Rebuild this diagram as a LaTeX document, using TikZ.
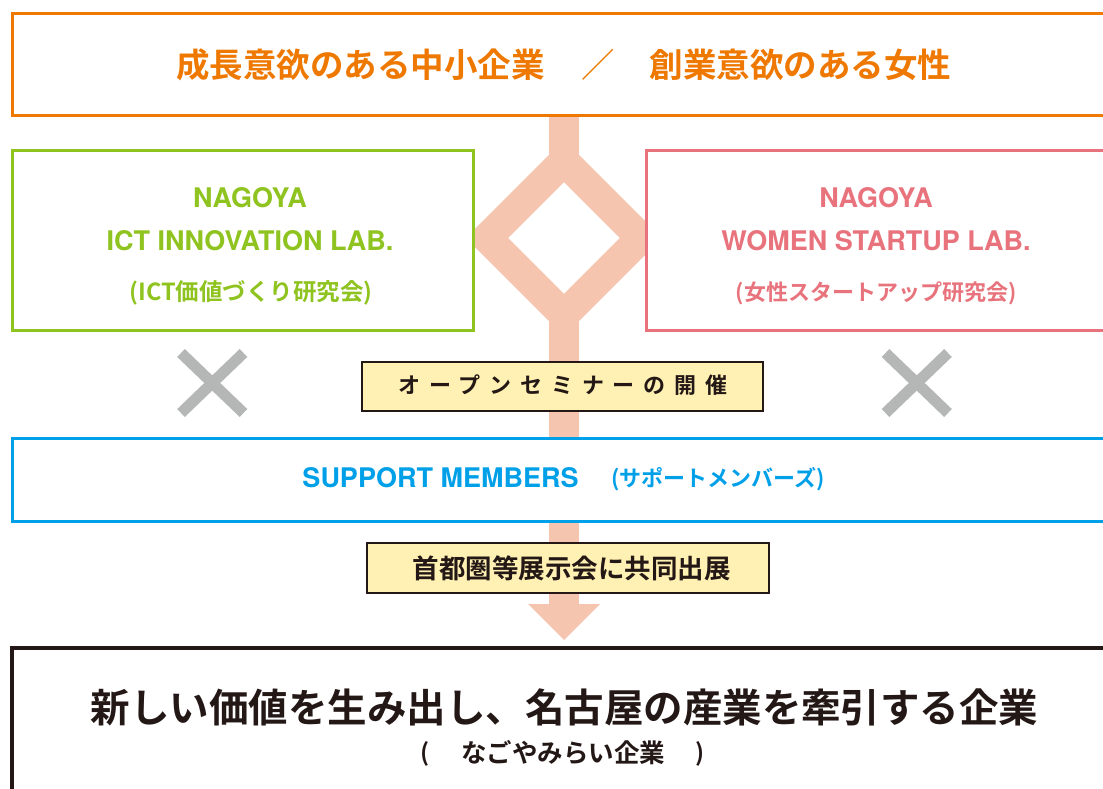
\documentclass[tikz,border=0pt]{standalone}
\usepackage{fontspec}
\setmainfont{TeX Gyre Heros}
\newfontfamily\jp{Noto Sans CJK JP}[UprightFont={* Bold}]
\newfontfamily\jpthin{Noto Sans CJK JP}
\newcommand\fsz[1]{\fontsize{#1}{#1}\selectfont}
\definecolor{cOrange}{HTML}{EE7800}
\definecolor{cGreen}{HTML}{8FC31F}
\definecolor{cPink}{HTML}{E8737C}
\definecolor{cBlue}{HTML}{00A0E9}
\definecolor{cSalmon}{HTML}{F6C5AF}
\definecolor{cGray}{HTML}{B5B6B6}
\definecolor{cYellow}{HTML}{FFF1B3}
\definecolor{cDark}{HTML}{231815}
\tikzset{
  frame/.style={draw=#1, line width=3pt, fill=white, inner sep=0pt},
  tagbox/.style={draw=cDark, line width=2pt, fill=cYellow, inner sep=0pt},
  lbl/.style={anchor=base, inner sep=0pt},
  cross/.style={draw=cGray, line width=11pt},
  flow/.style={draw=cSalmon, line width=30pt},
}
\begin{document}
\begin{tikzpicture}[x=1pt,y=-1pt]
\useasboundingbox (0,0) rectangle (1103,789);
\clip (0,0) rectangle (1103,789);
\fill[white] (0,0) rectangle (1103,789);
% flow bar and diamond
\coordinate (bartop) at (564,116);
\coordinate (dtop) at (564,161);
\coordinate (dright) at (641,238);
\coordinate (dbot) at (564,315);
\coordinate (dleft) at (487,238);
\coordinate (barend) at (564,605);
\draw[flow] (bartop) -- (dtop);
\draw[flow] (dbot) -- (barend);
\draw[flow, miter limit=10] (dtop) -- (dright) -- (dbot) -- (dleft) -- cycle;
\coordinate (arrL) at (528,604);
\coordinate (arrR) at (600,604);
\coordinate (arrT) at (564,640);
\fill[cSalmon] (arrL) -- (arrR) -- (arrT) -- cycle;
% boxes
\node[frame=cOrange, minimum width=1098pt, minimum height=101.5pt] (top) at (561,64.75) {};
\node[frame=cGreen, minimum width=461pt, minimum height=179pt] (green) at (242.5,240.5) {};
\node[frame=cPink, minimum width=464pt, minimum height=179pt] (pink) at (878,240.5) {};
\node[frame=cBlue, minimum width=1098pt, minimum height=83pt] (blue) at (561,479.5) {};
\node[frame=cDark, line width=3.5pt, minimum width=1098pt, minimum height=152pt] (bottom) at (561,724) {};
\node[tagbox, minimum width=401pt, minimum height=49pt] (tag1) at (562.5,386.5) {};
\node[tagbox, minimum width=402pt, minimum height=50pt] (tag2) at (568,568) {};
% crosses
\draw[cross] (181,353) -- (243.5,413) (181,413) -- (243.5,353);
\draw[cross] (885.5,353) -- (948,413) (885.5,413) -- (948,353);
% title
\node[lbl, text=cOrange, font=\jp\fsz{33.5}] (t1) at (360.5,77.7) {成長意欲のある中小企業};
\node[lbl, text=cOrange, font=\jpthin\fsz{33.5}] (t2) at (598,77.7) {／};
\node[lbl, text=cOrange, font=\jp\fsz{33.5}] (t3) at (800.5,77.7) {創業意欲のある女性};
% green
\node[lbl, text=cGreen, font=\bfseries\fsz{27}] (g1) at (250,207) {NAGOYA};
\node[lbl, text=cGreen, font=\bfseries\fsz{27}] (g2) at (250,250) {ICT INNOVATION LAB.};
\node[lbl, text=cGreen, font=\jp\fsz{23.5}] (g3) at (251,300.5) {(ICT価値づくり研究会)};
% pink
\node[lbl, text=cPink, font=\bfseries\fsz{27}] (p1) at (876,207) {NAGOYA};
\node[lbl, text=cPink, font=\bfseries\fsz{27}] (p2) at (876,250) {WOMEN STARTUP LAB.};
\node[lbl, text=cPink, font=\jp\fsz{22}] (p3) at (876,300) {(女性スタートアップ研究会)};
% tag 1
\node[lbl, text=cDark, font=\jp\fsz{22}\addfontfeature{LetterSpace=40}] (tag1t) at (563,393.4) {オープンセミナーの開催};
% blue
\node[lbl, text=cBlue, font=\bfseries\fsz{27}] (b1) at (440.5,487) {SUPPORT MEMBERS};
\node[lbl, text=cBlue, font=\jp\fsz{22}] (b2) at (718,486.5) {(サポートメンバーズ)};
% tag 2
\node[lbl, text=cDark, font=\jp\fsz{26.5}] (tag2t) at (571.5,578) {首都圏等展示会に共同出展};
% bottom
\node[lbl, text=cDark, font=\jp\fsz{39.5}] (m1) at (564.5,722) {新しい価値を生み出し、名古屋の産業を牽引する企業};
\node[lbl, text=cDark, font=\jp\fsz{24}] (m2a) at (425,761) {(};
\node[lbl, text=cDark, font=\jp\fsz{25.5}] (m2b) at (563,762) {なごやみらい企業};
\node[lbl, text=cDark, font=\jp\fsz{24}] (m2c) at (700,761) {)};
\end{tikzpicture}
\end{document}
